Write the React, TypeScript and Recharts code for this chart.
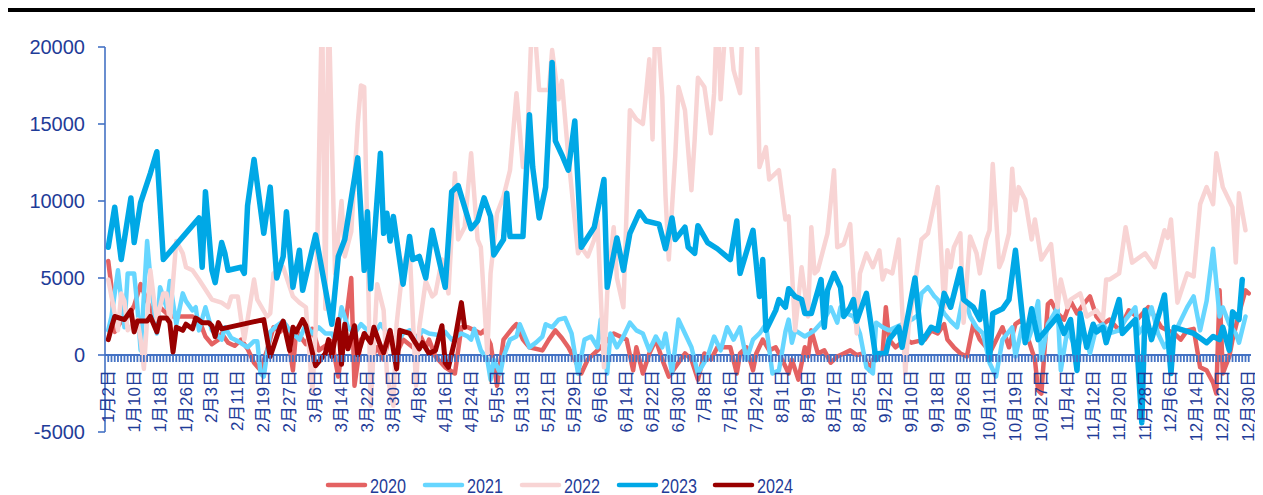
import React from 'react';
import { LineChart, Line, XAxis, YAxis, ReferenceLine } from 'recharts';

// ---------- tick labels (every 8th trading day) ----------
const tickLabels = [
  '1月2日', '1月10日', '1月18日', '1月26日', '2月3日', '2月11日', '2月19日', '2月27日', '3月6日',
  '3月14日', '3月22日', '3月30日', '4月8日', '4月16日', '4月24日', '5月5日', '5月13日', '5月21日',
  '5月29日', '6月6日', '6月14日', '6月22日', '6月30日', '7月8日', '7月16日', '7月24日', '8月1日',
  '8月9日', '8月17日', '8月25日', '9月2日', '9月10日', '9月18日', '9月26日', '10月11日', '10月19日',
  '10月27日', '11月4日', '11月12日', '11月20日', '11月28日', '12月6日', '12月14日', '12月22日', '12月30日',
];
const yTicks = [-5000, 0, 5000, 10000, 15000, 20000];
const seriesNames = ['2020', '2021', '2022', '2023', '2024'];
const seriesColors = ['#E46262', '#66D6FF', '#F8D4D4', '#00A8E6', '#990000'];

// ---------- series values: [day index, value] ----------
const s2020: [number, number][] = [
  [0,6100],[1,4400],[2,1500],[4,2200],[6,2500],[8,3200],[10,4600],[12,3500],[14,2600],[16,3100],[18,2700],[20,2500],[23,2500],[26,2500],[28,2300],[30,1200],[32,700],[34,1000],[35,1400],[37,800],[39,600],[41,1000],[43,400],[45,-500],[47,-1000],[49,300],[51,1800],[53,1500],[55,1900],[57,-1000],[58,1600],[61,700],[63,1700],[65,300],[67,600],[69,900],[71,-1400],[73,1600],[75,5000],[76,-2000],[78,1000],[80,1400],[82,100],[83,500],[85,-300],[87,1400],[89,100],[91,1000],[94,500],[96,1400],[98,500],[99,1000],[101,-100],[104,-800],[107,-1200],[109,1800],[111,1800],[113,1600],[115,1400],[116,1600],[118,700],[120,-2000],[122,1000],[125,1800],[126,2000],[128,1000],[130,500],[134,300],[136,1000],[138,1600],[140,1100],[142,500],[144,-300],[146,-1200],[148,-300],[150,100],[152,500],[156,1400],[158,1200],[160,1000],[162,-1000],[163,500],[165,-1200],[167,100],[169,1000],[171,-300],[173,-1400],[175,-800],[178,100],[180,-300],[182,-1600],[184,100],[186,-300],[188,500],[192,500],[194,-1200],[195,100],[197,500],[199,-1000],[200,100],[202,1000],[204,300],[206,500],[208,-300],[210,-1200],[211,-300],[213,-1600],[215,500],[216,-100],[217,1600],[219,100],[221,300],[223,-500],[225,-100],[227,100],[229,300],[231,0],[233,100],[235,-1000],[236,-300],[239,100],[240,3100],[241,1000],[243,500],[246,1000],[248,800],[252,1000],[254,1600],[256,1400],[258,2000],[259,1000],[261,500],[263,100],[265,-100],[267,2000],[269,1000],[271,500],[272,100],[276,1800],[278,500],[280,2000],[282,2300],[284,1000],[286,-300],[287,-2300],[288,-2500],[290,3300],[291,3500],[293,2700],[295,2300],[297,3500],[299,2700],[301,3300],[303,3800],[305,2500],[307,2000],[309,2300],[312,1600],[315,2900],[318,2400],[321,3100],[323,2500],[325,1800],[327,1600],[329,1400],[331,1000],[333,1600],[335,1700],[337,-800],[339,-1000],[341,-1800],[342,-2500],[343,4200],[344,-1200],[346,-100],[347,1000],[349,2700],[351,4200],[352,4000],
];
const s2021: [number, number][] = [
  [0,1600],[1,2500],[3,5500],[5,1800],[6,5300],[8,5300],[9,3100],[10,300],[12,7400],[13,5000],[15,1400],[16,4400],[18,3100],[19,4800],[21,2000],[23,4000],[24,3500],[26,2900],[27,3100],[28,1600],[30,3100],[32,1600],[33,1400],[35,1000],[36,1800],[38,1100],[40,900],[43,500],[45,900],[46,900],[47,-1200],[48,-1400],[50,1500],[52,1900],[54,2200],[56,1600],[59,1000],[61,2000],[63,1400],[65,1800],[67,1400],[69,1400],[70,1000],[71,1800],[72,3100],[74,1800],[76,1400],[78,2000],[80,1600],[82,1400],[84,2000],[87,1200],[89,800],[91,1400],[93,1600],[95,1000],[97,1600],[99,1400],[102,1300],[104,1500],[106,1000],[109,1400],[111,1200],[112,1000],[113,1700],[115,300],[117,-300],[118,-1600],[119,-300],[121,-1200],[122,-100],[124,1000],[126,1200],[127,2000],[130,500],[132,800],[134,1200],[135,2000],[137,1800],[139,2300],[141,2400],[143,1400],[145,-1200],[147,1000],[149,1200],[151,500],[152,2300],[154,-1200],[155,1400],[157,500],[159,1200],[161,2100],[163,1600],[165,1400],[167,300],[169,1200],[171,500],[172,1400],[174,-1200],[176,2300],[178,1400],[180,500],[182,-1200],[185,-100],[187,1200],[189,300],[191,1800],[193,1000],[195,1800],[197,-300],[199,1000],[201,1400],[203,2000],[205,-1200],[207,-1000],[209,1500],[210,2300],[211,800],[212,1600],[215,1200],[218,1600],[221,2300],[223,3100],[225,2100],[226,3100],[228,2700],[230,2500],[232,1400],[234,-800],[236,-1200],[237,2100],[239,1800],[241,1600],[243,1800],[245,2000],[248,2300],[250,2600],[251,4000],[253,4400],[255,3800],[256,3600],[258,2700],[260,2200],[262,1800],[264,4000],[266,2500],[268,1800],[270,1400],[272,-500],[274,-1400],[276,1000],[279,1800],[280,-100],[282,1800],[284,1000],[285,1600],[287,3500],[288,-300],[290,2000],[292,2700],[293,3100],[294,-1000],[296,1600],[299,300],[301,1600],[303,100],[305,1800],[307,2000],[309,1400],[312,1600],[314,2300],[317,3100],[318,1400],[320,2000],[322,3100],[324,1400],[326,500],[328,1200],[330,1800],[333,3100],[335,3800],[337,1600],[339,3500],[341,6900],[343,2500],[344,3100],[346,2000],[348,1400],[349,800],[351,2500],
];
const s2022: [number, number][] = [
  [0,4900],[1,3800],[3,1600],[4,4000],[5,3500],[6,1600],[9,2300],[10,1000],[11,-900],[13,5500],[14,3800],[15,2300],[17,4000],[18,4000],[19,2100],[21,7400],[23,6600],[24,5700],[26,5500],[28,4900],[32,3600],[35,3400],[37,3100],[38,3800],[40,3800],[41,2300],[42,1000],[44,3600],[45,4900],[46,3600],[49,2500],[50,2700],[51,5300],[54,5700],[57,3800],[59,3400],[61,3100],[63,-2400],[64,1600],[66,23000],[67,3000],[68,23000],[70,5300],[72,10000],[73,6400],[75,8000],[77,15000],[78,17500],[79,17400],[80,7400],[81,-3300],[83,4600],[85,2900],[86,-1200],[88,-3300],[89,2000],[91,5900],[93,7000],[95,-2000],[96,1800],[98,4800],[100,3800],[101,4000],[103,6200],[105,4000],[107,11800],[108,7500],[110,8300],[112,13100],[114,7500],[115,7000],[117,100],[118,5300],[120,9200],[122,10300],[124,12000],[126,17000],[128,12200],[129,12200],[131,23000],[133,17200],[136,17200],[137,19800],[139,16600],[140,17800],[142,12900],[145,6600],[146,7000],[148,6400],[150,7500],[151,8700],[153,-800],[154,4000],[156,8300],[157,5000],[159,3100],[161,15900],[163,15300],[165,15000],[166,17000],[167,19200],[168,14000],[169,23000],[171,16800],[172,10300],[173,6200],[175,12900],[176,17400],[178,15900],[180,10700],[181,14000],[182,18000],[184,17400],[186,14400],[187,17000],[188,23000],[189,16600],[191,23000],[193,18500],[195,17000],[196,23000],[199,23000],[200,23000],[201,12200],[203,13500],[204,11400],[207,12000],[209,8800],[210,9000],[211,5500],[212,1600],[214,5700],[216,2500],[217,8300],[218,5300],[219,5500],[222,7900],[224,12000],[225,7000],[227,7200],[229,8500],[231,1400],[232,5300],[234,6600],[236,5700],[238,6800],[239,4900],[240,5500],[242,5300],[244,7500],[246,-1200],[247,1800],[251,7500],[253,7900],[256,10900],[258,3100],[259,6800],[260,5700],[261,7000],[263,7900],[264,2100],[266,7700],[268,6600],[269,5300],[271,7500],[272,8100],[273,12400],[275,5700],[276,6200],[278,7900],[279,12100],[280,9400],[281,10900],[283,10100],[285,7500],[286,8800],[288,6200],[291,7200],[293,3100],[294,4900],[296,3100],[297,3600],[300,4000],[302,2500],[305,2900],[307,2300],[308,4900],[309,4900],[312,5300],[314,8300],[316,6000],[320,6600],[323,5700],[326,8100],[327,7600],[328,8800],[330,3400],[333,5300],[335,5100],[337,9800],[339,10900],[341,9800],[342,13100],[344,10900],[347,9600],[348,6000],[349,10500],[351,8100],
];
const s2023: [number, number][] = [
  [0,7000],[2,9600],[4,6200],[7,10200],[8,7300],[10,9900],[13,11800],[15,13200],[17,6200],[28,8900],[29,5700],[30,10600],[32,5500],[33,4700],[35,7300],[36,6600],[37,5500],[41,5700],[42,5300],[43,9700],[45,12700],[48,7900],[50,10900],[52,5000],[54,6400],[55,9300],[57,4400],[59,6800],[60,4200],[64,7800],[69,2000],[71,6400],[73,7500],[77,12800],[79,5500],[80,9300],[81,4300],[84,13100],[85,7900],[86,9200],[87,7400],[88,9000],[91,4600],[93,7700],[94,6200],[96,6400],[98,5000],[100,8100],[104,4400],[106,10600],[108,11000],[112,8200],[114,8700],[116,10200],[118,9000],[119,6500],[122,7500],[123,10500],[124,7700],[128,7700],[130,15600],[131,12200],[133,8900],[135,10900],[137,19000],[138,13900],[140,13000],[142,12000],[144,15200],[146,7000],[150,8300],[153,11400],[154,4400],[157,7600],[159,5500],[161,7900],[164,9300],[166,8700],[170,8500],[172,6900],[174,8900],[175,7500],[178,8300],[179,7000],[181,6600],[182,8400],[185,7300],[188,6900],[192,6200],[194,8700],[195,5300],[199,8100],[201,3800],[202,6200],[203,1600],[206,2900],[207,3600],[209,3100],[210,4300],[212,3800],[214,3600],[215,2700],[217,2700],[220,4900],[221,1800],[222,4200],[224,5300],[226,4400],[227,2500],[229,3100],[230,3600],[231,2200],[234,4000],[237,-300],[238,100],[240,100],[241,1000],[244,1800],[245,500],[249,5000],[251,800],[254,1800],[256,1600],[258,4000],[260,3100],[263,5600],[264,3600],[267,3100],[269,2300],[270,4100],[272,-300],[273,2700],[276,3000],[278,3600],[280,6800],[283,800],[285,3000],[287,1000],[291,2000],[293,2500],[295,1400],[297,2300],[299,-1000],[300,2700],[302,500],[304,2000],[305,1500],[307,1800],[308,800],[312,3600],[313,1400],[317,2300],[319,-4400],[320,2900],[322,1000],[326,3900],[328,-1200],[329,1800],[332,1600],[335,1400],[337,1100],[339,800],[341,1200],[343,1000],[344,1800],[346,300],[347,2800],[349,2300],[350,4900],
];
const s2024: [number, number][] = [
  [0,1000],[1,1800],[2,2500],[5,2300],[7,2900],[8,1500],[9,2200],[12,2200],[13,2500],[15,1500],[16,2400],[18,2400],[19,2100],[20,200],[21,1800],[23,1600],[24,2000],[26,1700],[27,2400],[29,2100],[31,2100],[32,1900],[33,1200],[34,2100],[35,1700],[48,2300],[50,-100],[53,1800],[54,2200],[56,300],[57,1800],[58,1500],[60,2300],[61,1900],[64,-700],[67,100],[68,1000],[69,-100],[71,2300],[72,-600],[73,2000],[74,400],[76,1900],[77,0],[79,1400],[81,800],[82,1800],[84,600],[85,150],[87,1600],[89,-900],[90,1600],[93,1400],[96,400],[97,800],[99,100],[101,300],[103,1900],[104,-500],[105,-800],[107,1000],[109,3400],[110,1800],
];

const allSeries = [s2020, s2021, s2022, s2023, s2024];
const seriesWidths = [4.5, 4.5, 4.5, 5.5, 5];

// ---------- layout ----------
const W = 1255;
const H = 487;
const X_H = 40;
const margin = { top: 39, right: 12, left: 0, bottom: 23 };
const Y_MIN = -5000;
const Y_MAX = 20000;
const PLOT_H = H - margin.top - margin.bottom - X_H;
const ZERO_Y = margin.top + (PLOT_H * Y_MAX) / (Y_MAX - Y_MIN);
const AXIS = '#4472C4';
const TEXT = '#1F3C98';
const FONT = "'Liberation Sans', Arial, 'Noto Sans CJK SC', sans-serif";
const N_DAYS = 353;
const dayTicks = Array.from({ length: N_DAYS }, (_, k) => k);

const XTick = (props: any) => {
  const { x, payload } = props;
  const idx = payload.value as number;
  return (
    <g>
      <line x1={x} x2={x} y1={ZERO_Y} y2={ZERO_Y + 7} stroke={AXIS} strokeWidth={1.8} />
      {idx % 8 === 0 && (
        <text
          transform={`translate(${x},${ZERO_Y + 15}) rotate(-90)`}
          textAnchor="end"
          dominantBaseline="central"
          fontSize={17}
          fontFamily={FONT}
          fill={TEXT}
        >
          {tickLabels[idx / 8]}
        </text>
      )}
    </g>
  );
};

const LegendBox = () => {
  const starts = [318, 415, 512, 609, 705];
  return (
    <svg width={W} height={30} style={{ position: 'absolute', left: 0, top: 462 }}>
      {seriesNames.map((n, k) => (
        <g key={n}>
          <line x1={starts[k] + 2} x2={starts[k] + 39} y1={15} y2={15} stroke={seriesColors[k]} strokeWidth={4.5} strokeLinecap="round" />
          <text x={starts[k] + 44} y={15} dominantBaseline="central" fontSize={21} fontFamily={FONT} fill={TEXT} textLength={36} lengthAdjust="spacingAndGlyphs">
            {n}
          </text>
        </g>
      ))}
    </svg>
  );
};

export default function App() {
  return (
    <div style={{ position: 'relative', width: W, height: H }}>
      <LineChart width={W} height={H} margin={margin}>
        <XAxis
          type="number"
          dataKey="i"
          domain={[-1, 352.7]}
          ticks={dayTicks}
          interval={0}
          tick={<XTick />}
          tickLine={false}
          axisLine={false}
          height={X_H}
          allowDataOverflow
        />
        <YAxis
          type="number"
          domain={[Y_MIN, Y_MAX]}
          ticks={yTicks}
          interval={0}
          width={97}
          tickSize={7}
          tickMargin={13}
          allowDataOverflow
          axisLine={{ stroke: AXIS, strokeWidth: 1.6 }}
          tickLine={{ stroke: AXIS, strokeWidth: 1.6 }}
          tick={{ fontSize: 20, fontFamily: FONT, fill: TEXT }}
        />
        <ReferenceLine y={0} stroke={AXIS} strokeWidth={2} />
        {allSeries.map((s, k) => (
          <Line
            key={seriesNames[k]}
            name={seriesNames[k]}
            data={s.map(([i, v]) => ({ i, v }))}
            dataKey="v"
            type="linear"
            stroke={seriesColors[k]}
            strokeWidth={seriesWidths[k]}
            strokeLinejoin="round"
            strokeLinecap="round"
            dot={false}
            activeDot={false}
            isAnimationActive={false}
          />
        ))}
      </LineChart>
      <div style={{ position: 'absolute', left: -1, top: 0, width: 1248, height: 4, background: '#000' }} />
      <LegendBox />
    </div>
  );
}
